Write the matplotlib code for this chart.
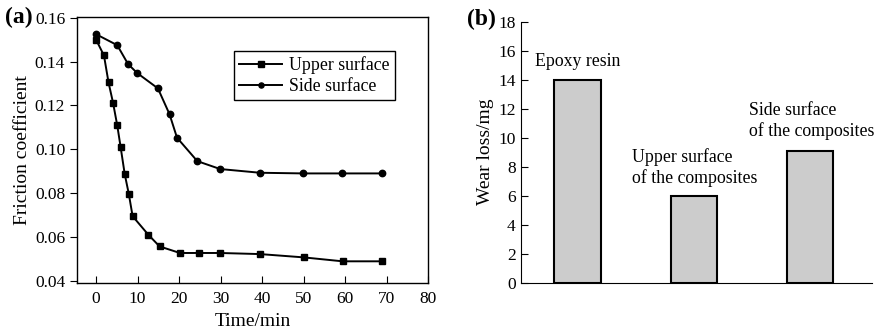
import matplotlib
matplotlib.use("Agg")
import matplotlib.pyplot as plt

plt.rcParams["font.family"] = ["Liberation Serif", "DejaVu Serif"]

# (a) friction coefficient vs time
t_upper = [0, 1.9, 3.0, 4.1, 5.1, 5.9, 6.9, 7.9, 8.8, 12.6, 15.3, 20.2, 24.9, 29.9, 39.5, 50.0, 59.4, 69.0]
f_upper = [0.150, 0.1428, 0.1305, 0.1211, 0.1109, 0.1012, 0.0887, 0.0795, 0.0695, 0.061,
           0.0557, 0.0527, 0.0527, 0.0527, 0.0522, 0.0507, 0.0489, 0.0489]
t_side = [0, 5.1, 7.7, 9.9, 14.9, 17.7, 19.5, 24.4, 29.9, 39.5, 49.9, 59.2, 69.0]
f_side = [0.1525, 0.1475, 0.1389, 0.1348, 0.1278, 0.116, 0.1053, 0.0946, 0.091,
          0.0893, 0.089, 0.089, 0.089]
x_ticks = [0, 10, 20, 30, 40, 50, 60, 70, 80]
y_ticks = [0.04, 0.06, 0.08, 0.10, 0.12, 0.14, 0.16]

# (b) wear loss
bar_names = ["Epoxy resin", "Upper surface\nof the composites", "Side surface\nof the composites"]
wear_loss = [14.0, 5.95, 9.1]

fig = plt.figure(figsize=(8.78, 3.36), dpi=100)

ax1 = fig.add_axes([0.0877, 0.1577, 0.3998, 0.7913])
ax1.plot(t_upper, f_upper, "-s", color="black", lw=1.4, ms=5, label="Upper surface")
ax1.plot(t_side, f_side, "-o", color="black", lw=1.4, ms=4.6, label="Side surface")
ax1.set_xlim(-4.6, 80)
ax1.set_ylim(0.039, 0.1603)
ax1.set_xticks(x_ticks)
ax1.set_yticks(y_ticks)
ax1.set_yticklabels([f"{v:.2f}" for v in y_ticks])
ax1.tick_params(axis="x", direction="in", length=5, labelsize=12.5, pad=6)
ax1.tick_params(axis="y", direction="out", length=5, labelsize=12.5)
ax1.set_xlabel("Time/min", fontsize=14, labelpad=4)
ax1.set_ylabel("Friction coefficient", fontsize=14, labelpad=3)
for s in ax1.spines.values():
    s.set_linewidth(1.0)
leg = ax1.legend(loc="upper right", bbox_to_anchor=(0.906, 0.872), borderaxespad=0,
                 fontsize=12.8, fancybox=False, edgecolor="black", handlelength=2.4,
                 markerscale=0.8, borderpad=0.3, labelspacing=0.2, handletextpad=0.4,
                 framealpha=1)
leg.get_frame().set_linewidth(1.0)
fig.text(0.006, 0.93, "(a)", fontsize=17, fontweight="bold")

ax2 = fig.add_axes([0.593, 0.1586, 0.400, 0.7768])
pos = list(range(len(wear_loss)))
ax2.bar(pos, wear_loss, width=0.40, color="#cccccc", edgecolor="black", linewidth=1.5)
ax2.set_xlim(-0.49, 2.53)
ax2.set_ylim(0, 18)
ax2.set_yticks(range(0, 19, 2))
ax2.set_xticks([])
ax2.spines["top"].set_visible(False)
ax2.spines["right"].set_visible(False)
ax2.tick_params(axis="y", direction="in", length=5, labelsize=12.5)
ax2.set_ylabel("Wear loss/mg", fontsize=14, labelpad=3)
ax2.text(0, 15.25, bar_names[0], ha="center", va="center", fontsize=12.8)
ax2.text(0.47, 7.95, bar_names[1], ha="left", va="center", fontsize=12.8, linespacing=1.2)
ax2.text(1.47, 11.16, bar_names[2], ha="left", va="center", fontsize=12.8, linespacing=1.2)
fig.text(0.532, 0.925, "(b)", fontsize=17, fontweight="bold")

fig.savefig("out.png", dpi=100)
